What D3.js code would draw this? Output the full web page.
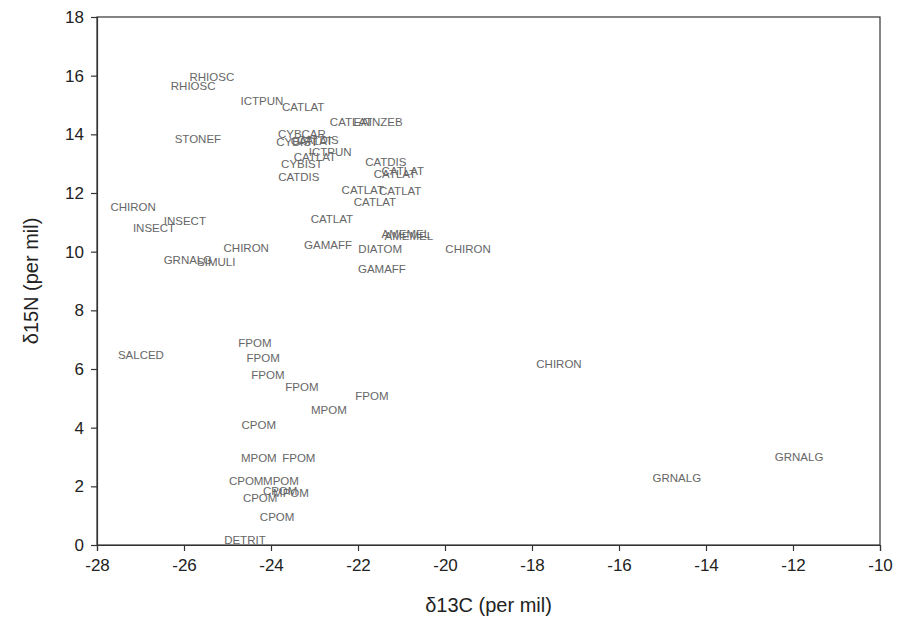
<!DOCTYPE html>
<html lang="en">
<head>
    <meta charset="UTF-8">
    <title>δ13C vs δ15N</title>
    <script src="https://cdn.jsdelivr.net/npm/d3@7"></script>
    <style>
        body { margin: 0; background: #fff; }
        svg { display: block; }
    </style>
</head>
<body>
    <div id="chart"></div>
    <script>
        // taxon codes and their isotope values
        const labels = ["RHIOSC", "RHIOSC", "ICTPUN", "CATLAT", "CATLAT", "EAINZEB", "STONEF",
            "CYBCAR", "CYBIST", "CATLAT", "CATDIS", "ICTPUN", "CATLAT", "CYBIST", "CATDIS",
            "CATDIS", "CATLAT", "CATLAT", "CATLAT", "CATLAT", "CATLAT", "CATLAT",
            "AMEMEL", "AMEMEL", "GAMAFF", "DIATOM", "CHIRON", "GAMAFF",
            "CHIRON", "INSECT", "INSECT", "CHIRON", "GRNALG", "SIMULI",
            "SALCED", "FPOM", "FPOM", "FPOM", "FPOM", "FPOM", "MPOM", "CPOM",
            "MPOM", "FPOM", "CPOM", "MPOM", "MPOM", "CPOM", "CPOM", "CPOM", "DETRIT",
            "CHIRON", "GRNALG", "GRNALG"]
        const d13C = [-25.36, -25.79, -24.21, -23.26, -22.16, -21.54, -25.68,
            -23.29, -23.40, -23.06, -22.92, -22.64, -22.99, -23.29, -23.36,
            -21.36, -21.15, -20.97, -21.89, -21.03, -21.61, -22.60,
            -20.90, -20.83, -22.69, -21.49, -19.47, -21.45,
            -27.17, -25.98, -26.69, -24.57, -25.91, -25.26,
            -26.99, -24.37, -24.18, -24.07, -23.29, -21.68, -22.67, -24.28,
            -24.28, -23.36, -24.57, -23.77, -23.54, -23.79, -24.25, -23.86, -24.60,
            -17.38, -11.86, -14.67]
        const d15N = [15.96, 15.65, 15.14, 14.93, 14.42, 14.42, 13.84,
            14.01, 13.74, 13.77, 13.81, 13.40, 13.23, 12.99, 12.55,
            13.06, 12.65, 12.75, 12.10, 12.07, 11.69, 11.11,
            10.60, 10.54, 10.23, 10.09, 10.09, 9.41,
            11.52, 11.05, 10.81, 10.13, 9.72, 9.65,
            6.48, 6.89, 6.38, 5.80, 5.39, 5.08, 4.60, 4.09,
            2.97, 2.97, 2.18, 2.18, 1.77, 1.84, 1.60, 0.95, 0.17,
            6.17, 3.00, 2.28]
        const xTicks = [-28, -26, -24, -22, -20, -18, -16, -14, -12, -10]
        const yTicks = [0, 2, 4, 6, 8, 10, 12, 14, 16, 18]

        const width = 901
        const height = 634
        const margin = { top: 17, right: 21, bottom: 89, left: 97 }

        const svg = d3.select("#chart").append("svg")
            .attr("width", width).attr("height", height)
            .style("font-family", "Liberation Sans, Arial, sans-serif")

        const x = d3.scaleLinear().domain([-28, -10]).range([margin.left, width - margin.right])
        const y = d3.scaleLinear().domain([0, 18]).range([height - margin.bottom, margin.top])

        // frame
        svg.append("rect")
            .attr("x", margin.left).attr("y", margin.top)
            .attr("width", width - margin.left - margin.right)
            .attr("height", height - margin.top - margin.bottom)
            .attr("fill", "none").attr("stroke", "#333").attr("stroke-width", 1.2)

        // plain hyphen for negatives, like the original
        const fmt = d => String(d)
        const xAxis = svg.append("g")
            .attr("transform", `translate(0,${height - margin.bottom})`)
            .call(d3.axisBottom(x).tickValues(xTicks).tickFormat(fmt).tickSize(6).tickPadding(8))
        const yAxis = svg.append("g")
            .attr("transform", `translate(${margin.left},0)`)
            .call(d3.axisLeft(y).tickValues(yTicks).tickFormat(fmt).tickSize(6).tickPadding(7))

        for (const g of [xAxis, yAxis]) {
            g.select(".domain").attr("stroke", "#333").attr("stroke-width", 1.2)
            g.selectAll(".tick line").attr("stroke", "#333").attr("stroke-width", 1.2)
            g.selectAll(".tick text").attr("font-size", "17px").attr("fill", "#222")
                .attr("font-family", "Liberation Sans, Arial, sans-serif")
        }

        // axis titles
        svg.append("text")
            .attr("x", (margin.left + width - margin.right) / 2).attr("y", 612)
            .attr("text-anchor", "middle").attr("font-size", "20px").attr("fill", "#222")
            .text("δ13C (per mil)")
        svg.append("text")
            .attr("transform", `translate(38,${(margin.top + height - margin.bottom) / 2}) rotate(-90)`)
            .attr("text-anchor", "middle").attr("font-size", "20px").attr("fill", "#222")
            .text("δ15N (per mil)")

        // points drawn as their labels
        const points = labels.map((l, i) => ({ label: l, c: d13C[i], n: d15N[i] }))
        svg.append("g").selectAll("text").data(points).enter().append("text")
            .attr("x", d => x(d.c))
            .attr("y", d => y(d.n))
            .attr("text-anchor", "middle")
            .attr("dominant-baseline", "central")
            .attr("font-size", "11.5px")
            .attr("fill", "#666")
            .text(d => d.label)
    </script>
</body>
</html>
